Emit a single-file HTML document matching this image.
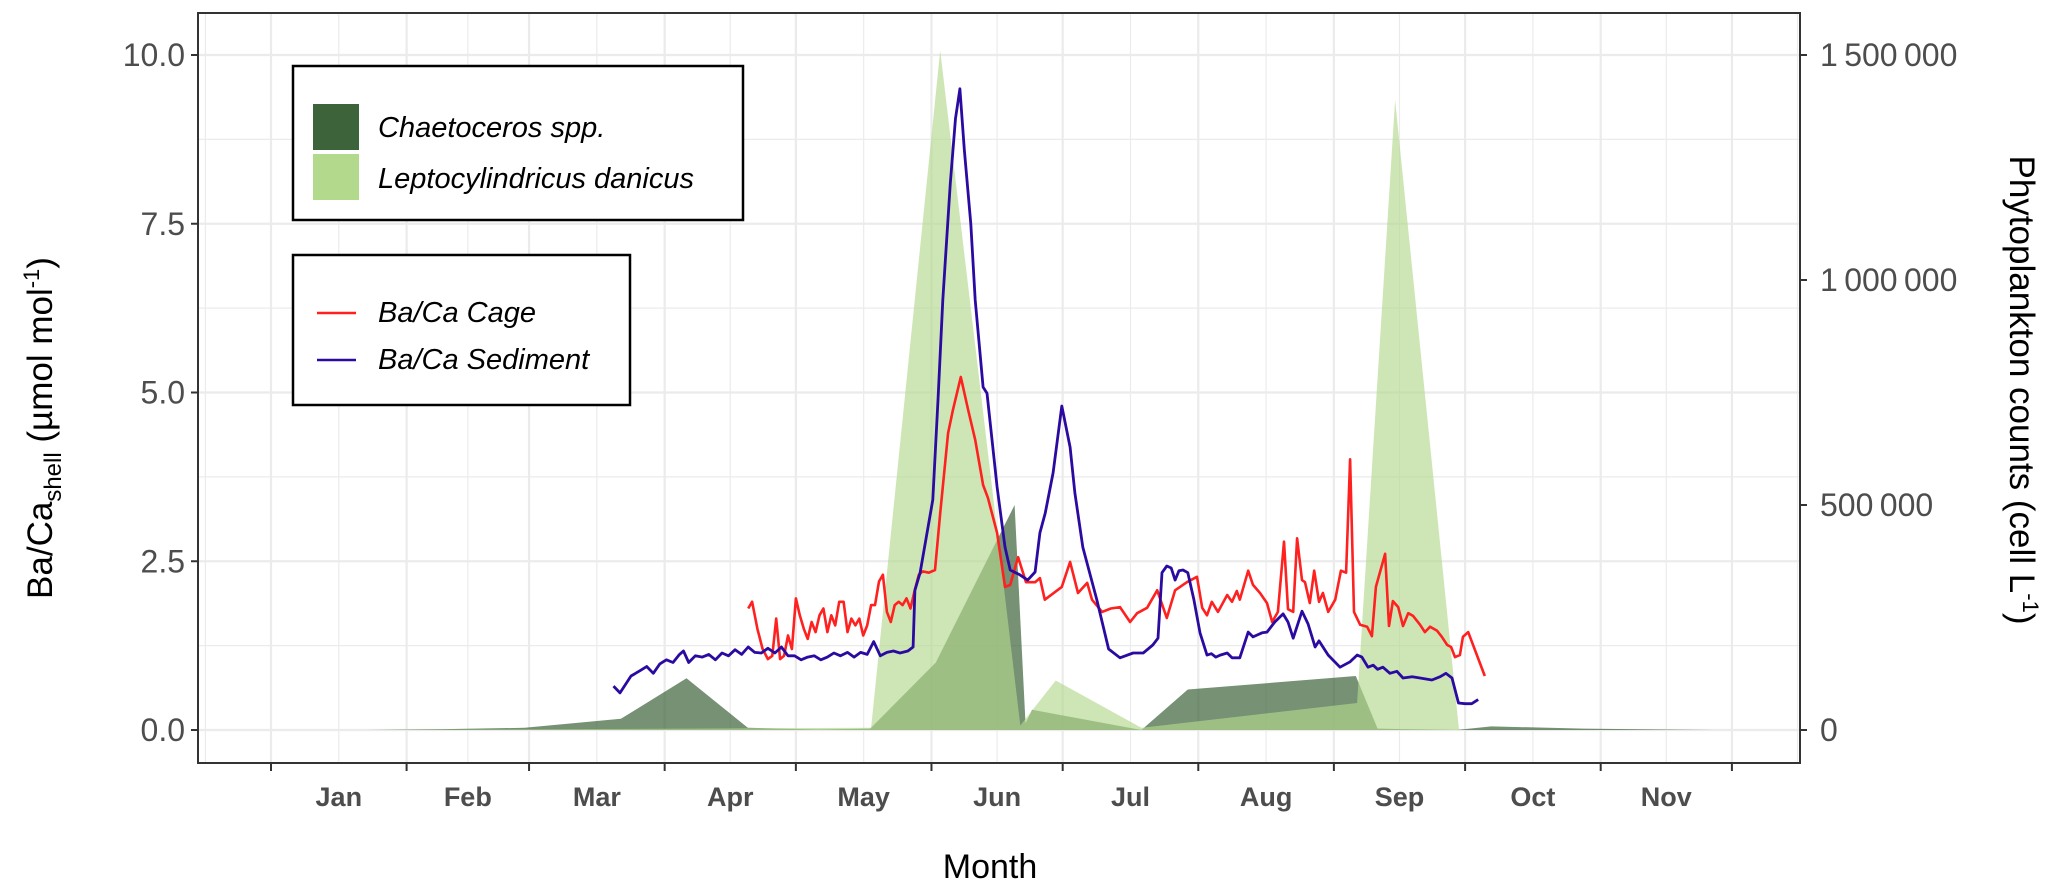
<!DOCTYPE html>
<html><head><meta charset="utf-8"><style>
html,body{margin:0;padding:0;background:#fff}
svg{display:block;font-family:"Liberation Sans",sans-serif}
</style></head><body>
<svg id="chart" width="2067" height="892" viewBox="0 0 2067 892">
<rect x="0" y="0" width="2067" height="892" fill="#fff"/>
<g id="grid"></g>
<g id="areas"></g>
<g id="lines"></g>
<rect x="198" y="13" width="1602" height="750" fill="none" stroke="#333" stroke-width="2"/>
<g id="axes"></g>
<text x="52" y="428" transform="rotate(-90 52 428)" text-anchor="middle" font-size="35" fill="#000">Ba/Ca<tspan font-size="24" dy="9">shell</tspan><tspan dy="-9"> (µmol mol</tspan><tspan font-size="22" dy="-13">-1</tspan><tspan dy="13">)</tspan></text>
<text x="2010" y="390" transform="rotate(90 2010 390)" text-anchor="middle" font-size="35" fill="#000">Phytoplankton counts (cell L<tspan font-size="22" dy="-13">-1</tspan><tspan dy="13">)</tspan></text>
<text x="990" y="878" text-anchor="middle" font-size="34" fill="#000">Month</text>
<g>
<rect x="293" y="66" width="450" height="154" fill="#fff" stroke="#000" stroke-width="2.5"/>
<rect x="313" y="104" width="46" height="46" fill="#3c6339"/>
<rect x="313" y="154" width="46" height="46" fill="#b3d98d"/>
<text x="378" y="137" font-size="29" font-style="italic">Chaetoceros spp.</text>
<text x="378" y="188" font-size="29" font-style="italic">Leptocylindricus danicus</text>
</g>
<g>
<rect x="293" y="255" width="337" height="150" fill="#fff" stroke="#000" stroke-width="2.5"/>
<line x1="317" y1="313" x2="356" y2="313" stroke="#ff2020" stroke-width="2.5"/>
<line x1="317" y1="360" x2="356" y2="360" stroke="#2a0aa0" stroke-width="2.5"/>
<text x="378" y="322" font-size="29" font-style="italic">Ba/Ca Cage</text>
<text x="378" y="369" font-size="29" font-style="italic">Ba/Ca Sediment</text>
</g>
</svg>
<script>
// ---- data ----
const months = ["Jan","Feb","Mar","Apr","May","Jun","Jul","Aug","Sep","Oct","Nov"];
const monthStartDays = [0,31,59,90,120,151,181,212,243,273,304,334];
const leftTicks = [0,2.5,5,7.5,10];
const leftTickLabels = ["0.0","2.5","5.0","7.5","10.0"];
const rightTicks = [0,500000,1000000,1500000];
const rightTickLabels = ["0","500\u2009000","1\u2009000\u2009000","1\u2009500\u2009000"];

const chaetDays = [22,40,58,80,95,109,125,137,152,170,172.5,174,199,209.6,248,253,271,279,300,330];
const chaetCells = [0,2000,5000,25000,115000,5000,1000,3000,150000,500000,15000,45000,0,90000,120000,3000,0,8000,3000,0];

const leptoDays = [22,137.2,153,171.3,179.4,199,248.3,257,271.6,330];
const leptoCells = [0,5000,1510000,10000,110000,5000,60000,1400000,0,0];

const sedDays = [78.3,79.8,82.3,84.4,85.9,87.4,88.9,90.4,91.9,93.4,94.3,95.5,97.0,98.6,100.1,101.6,103.1,104.6,106.1,107.6,109.1,110.6,112.1,113.6,115.2,116.7,118.2,119.7,121.2,122.7,124.2,125.7,127.2,128.7,130.2,131.8,133.3,134.8,136.3,137.8,139.3,140.8,142.3,143.8,145.6,146.8,
147.2,148.4,151.3,152.5,153.6,155.3,156.5,157.5,158.5,160.0,161,162.8,163.7,166,167.8,169,171.2,173,174.7,175.8,177,178.8,180.8,182.7,183.8,185.6,188.8,191.5,
194.1,197.1,199.4,201.6,202.8,203.7,204.8,205.8,206.7,207.6,208.5,209.6,211,212.4,214,215,216,217,218.6,219.7,221.5,223.4,224.5,226.6,227.7,229.5,231.4,232.5,233.7,235.7,237.1,238.7,239.6,241.7,244.4,246.7,248.3,249.4,250.8,252,253,254.2,255.8,257.4,258.8,260.9,262.7,265.4,267.3,268.6,270,271.5,273,274.5,276];
const sedVals = [0.65,0.55,0.80,0.88,0.94,0.84,0.98,1.04,1.00,1.12,1.17,1.00,1.10,1.08,1.12,1.04,1.14,1.10,1.19,1.12,1.23,1.15,1.14,1.21,1.14,1.23,1.10,1.10,1.04,1.08,1.10,1.04,1.08,1.14,1.10,1.15,1.08,1.15,1.12,1.31,1.10,1.15,1.17,1.14,1.17,1.23,
2.07,2.33,3.41,4.89,6.37,8.1,9.06,9.5,8.6,7.5,6.37,5.08,4.99,3.6,2.71,2.37,2.30,2.22,2.34,2.92,3.21,3.81,4.80,4.19,3.51,2.71,1.93,1.2,
1.07,1.14,1.14,1.26,1.36,2.33,2.43,2.40,2.22,2.36,2.37,2.33,1.93,1.44,1.11,1.13,1.08,1.11,1.14,1.07,1.07,1.45,1.38,1.44,1.45,1.60,1.72,1.60,1.36,1.76,1.57,1.23,1.32,1.11,0.93,1.01,1.11,1.08,0.93,0.96,0.90,0.93,0.84,0.87,0.77,0.79,0.77,0.74,0.79,0.84,0.77,0.40,0.39,0.39,0.45];

const cageDays = [109.1,110.0,111.2,112.4,113.6,114.6,115.5,116.4,117.3,118.2,119.1,120.0,120.9,121.8,122.7,123.6,124.5,125.4,126.3,127.2,128.1,129.0,129.9,130.9,131.8,132.7,133.6,134.5,135.4,136.3,137.2,138.1,139.0,139.9,140.8,141.7,142.6,143.5,144.4,145.3,146.2,147.1,148.1,149.0,
150.4,151.8,153,154.8,155.9,157.7,159.4,161,162.8,163.9,166,167.8,169,170.8,172.6,174.7,175.8,176.9,180.8,182.7,184.5,186.6,187.7,190,192,
194.1,196.4,198.0,200.3,202.6,204.8,206.7,209.4,211.7,212.9,214.0,215.1,216.5,218.6,219.7,220.8,221.5,223.4,224.5,226.1,227.7,228.9,230.2,231.6,232.5,233.7,234.6,235.7,236.4,237.5,238.5,239.6,240.5,241.7,243.3,244.6,245.8,246.7,247.6,249.0,250.6,251.7,252.6,254.7,255.6,256.5,257.7,258.8,260.0,261.1,262.7,263.8,265.0,266.6,267.7,268.9,269.8,270.7,271.8,272.5,273.7,277.5];
const cageVals = [1.80,1.90,1.50,1.20,1.05,1.10,1.65,1.05,1.10,1.40,1.20,1.95,1.70,1.50,1.35,1.60,1.45,1.70,1.80,1.45,1.70,1.55,1.90,1.90,1.45,1.65,1.55,1.65,1.40,1.55,1.85,1.85,2.20,2.30,1.75,1.60,1.85,1.90,1.85,1.95,1.80,2.05,2.30,2.35,
2.33,2.37,3.21,4.40,4.74,5.23,4.74,4.30,3.63,3.44,2.92,2.12,2.15,2.56,2.19,2.19,2.25,1.93,2.12,2.49,2.03,2.18,1.93,1.75,1.80,
1.82,1.60,1.73,1.81,2.07,1.66,2.07,2.19,2.27,1.81,1.70,1.90,1.75,2.00,1.90,2.06,1.93,2.36,2.15,2.03,1.88,1.60,1.75,2.79,1.79,1.75,2.84,2.22,2.19,1.88,2.36,1.90,2.03,1.75,1.93,2.36,2.33,4.01,1.75,1.56,1.53,1.39,2.12,2.61,1.54,1.91,1.82,1.54,1.73,1.69,1.56,1.45,1.53,1.47,1.38,1.26,1.23,1.08,1.11,1.38,1.45,0.80];

// ---- scales ----
const X0 = 271, PXDAY = 4.374;
function xs(d){ return X0 + d*PXDAY; }
const Y0 = 730, PXUNIT = 67.5;
function yl(v){ return Y0 - v*PXUNIT; }
function yr(c){ return Y0 - c/1500000*10*PXUNIT; }
const NS = "http://www.w3.org/2000/svg";
function mk(tag, attrs, parent){ const e=document.createElementNS(NS,tag); for(const k in attrs) e.setAttribute(k,attrs[k]); parent.appendChild(e); return e; }

// grid
const grid = document.getElementById('grid');
for (let v=-1.25; v<=11.25; v+=1.25){
  const y=yl(v); if(y<14||y>762) continue;
  const major = Math.abs(v/2.5-Math.round(v/2.5))<1e-6;
  const l = mk('line',{x1:199,x2:1799,y1:y,y2:y,stroke:'#ebebeb','stroke-width':major?2.2:1.2},grid);
  
  
}
const vgrid = [];
for (let i=0;i<monthStartDays.length;i++){ vgrid.push([monthStartDays[i],true]); }
for (let i=0;i<monthStartDays.length-1;i++){ vgrid.push([(monthStartDays[i]+monthStartDays[i+1])/2,false]); }
vgrid.push([-15,false]); vgrid.push([349,false]);
vgrid.forEach(([d,major])=>{
  const x=xs(d); if(x<199||x>1799) return;
  const l = mk('line',{x1:x,x2:x,y1:14,y2:762,stroke:'#ebebeb','stroke-width':major?2.2:1.2},grid);
  
  
});

// areas
const areas = document.getElementById('areas');
function areaPath(days, vals){
  let d = 'M'+xs(days[0])+','+yr(0);
  for(let i=0;i<days.length;i++) d+=' L'+xs(days[i]).toFixed(1)+','+yr(vals[i]).toFixed(1);
  d+=' L'+xs(days[days.length-1])+','+yr(0)+' Z';
  return d;
}
const pc = mk('path',{d:areaPath(chaetDays,chaetCells),fill:'#3c6339','fill-opacity':0.7},areas);


const pl = mk('path',{d:areaPath(leptoDays,leptoCells),fill:'#b3d98d','fill-opacity':0.65},areas);



// lines
const lines = document.getElementById('lines');
function linePts(days, vals){ const n=Math.min(days.length,vals.length); const p=[]; for(let i=0;i<n;i++) p.push(xs(days[i]).toFixed(1)+','+yl(vals[i]).toFixed(1)); return p.join(' '); }
const lc = mk('polyline',{points:linePts(cageDays,cageVals),fill:'none',stroke:'#ff2020','stroke-width':2.6,'stroke-linejoin':'round'},lines);


const ls = mk('polyline',{points:linePts(sedDays,sedVals),fill:'none',stroke:'#2a0aa0','stroke-width':2.8,'stroke-linejoin':'round'},lines);



// axes
const axes = document.getElementById('axes');
leftTicks.forEach((v,i)=>{
  const y=yl(v);
  const t=mk('line',{x1:191,x2:198,y1:y,y2:y,stroke:'#333','stroke-width':2},axes);
  
  
  const tx=mk('text',{x:185,y:y+11,'text-anchor':'end','font-size':32,fill:'#4d4d4d'},axes);
  tx.textContent=leftTickLabels[i];
  
  
});
rightTicks.forEach((v,i)=>{
  const y=yr(v);
  const t=mk('line',{x1:1800,x2:1807,y1:y,y2:y,stroke:'#333','stroke-width':2},axes);
  
  
  const tx=mk('text',{x:1820,y:y+11,'text-anchor':'start','font-size':32,fill:'#4d4d4d'},axes);
  tx.textContent=rightTickLabels[i];
  
  
});
monthStartDays.forEach(d=>{
  const x=xs(d);
  const t=mk('line',{x1:x,x2:x,y1:763,y2:771,stroke:'#333','stroke-width':2},axes);
  
  
});
months.forEach((m,i)=>{
  const x=xs((monthStartDays[i]+monthStartDays[i+1])/2);
  const tx=mk('text',{x:x,y:806,'text-anchor':'middle','font-size':27,'font-weight':'bold',fill:'#4d4d4d'},axes);
  tx.textContent=m;
  
  
});
</script>
</body></html>
